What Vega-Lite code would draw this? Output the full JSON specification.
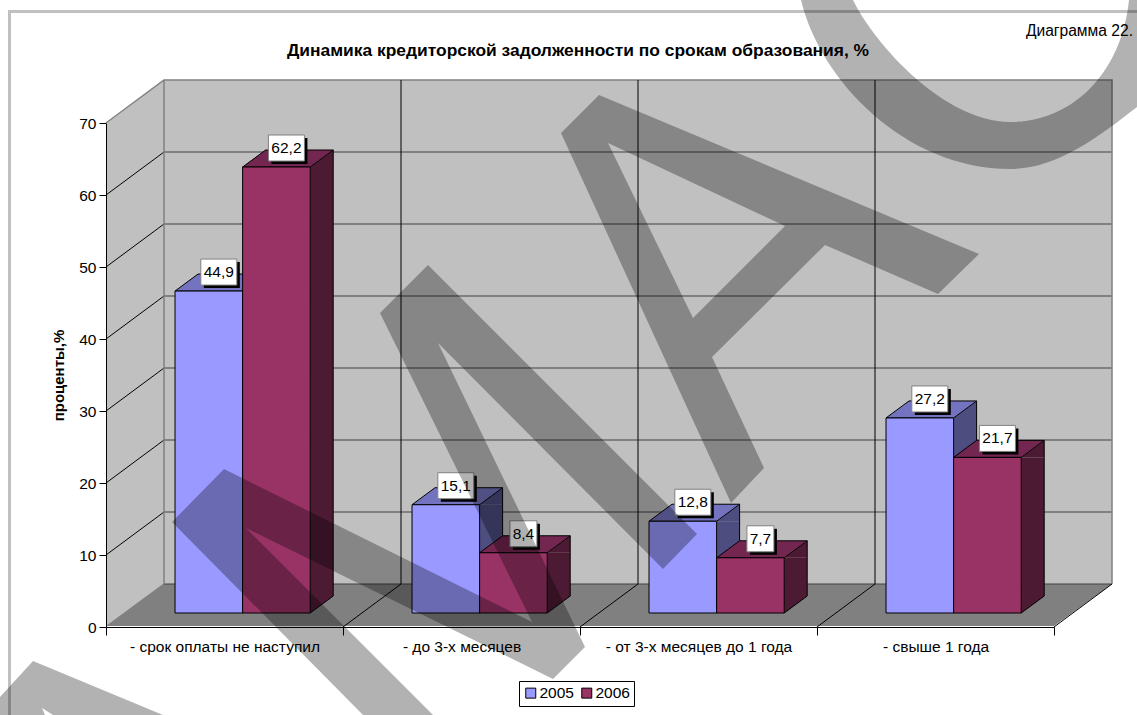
{"$schema":"https://vega.github.io/schema/vega-lite/v6.json","width":948,"height":504,"autosize":{"type":"none"},"padding":{"left":106,"top":123,"right":83,"bottom":88},"background":"white",
"title":{"text":"Динамика кредиторской задолженности по срокам образования, %","anchor":"middle","frame":"group","fontSize":17.4,"fontWeight":"bold","color":"black","offset":-59,"dx":-2},
"config":{"font":"Liberation Sans","view":{"stroke":null},"axis":{"grid":false}},
"datasets":{
"bars":[{"cat":"- срок оплаты не наступил","year":"2005","v":44.9,"label":"44,9"},{"cat":"- срок оплаты не наступил","year":"2006","v":62.2,"label":"62,2"},{"cat":"- до 3-х месяцев","year":"2005","v":15.1,"label":"15,1"},{"cat":"- до 3-х месяцев","year":"2006","v":8.4,"label":"8,4"},{"cat":"- от 3-х месяцев до 1 года","year":"2005","v":12.8,"label":"12,8"},{"cat":"- от 3-х месяцев до 1 года","year":"2006","v":7.7,"label":"7,7"},{"cat":"- свыше 1 года","year":"2005","v":27.2,"label":"27,2"},{"cat":"- свыше 1 года","year":"2006","v":21.7,"label":"21,7"}],
"cats":[{"cat":"- срок оплаты не наступил"},{"cat":"- до 3-х месяцев"},{"cat":"- от 3-х месяцев до 1 года"},{"cat":"- свыше 1 года"}],
"ticks":[{"tick":0},{"tick":10},{"tick":20},{"tick":30},{"tick":40},{"tick":50},{"tick":60},{"tick":70}],
"frame":[{"part":"frame"}]},
"resolve":{"scale":{"y":"independent"}},
"layer":[
{"layer":[
{"data":{"name":"frame"},"mark":{"type":"point","filled":true,"fill":"#C0C0C0","stroke":null,"opacity":1,"size":4,"shape":"M1,-1L1,-504L58,-547H1006V-43H58Z"},"encoding":{"x":{"datum":"- срок оплаты не наступил","type":"nominal","bandPosition":0,"scale":{"type":"band","domain":["- срок оплаты не наступил","- до 3-х месяцев","- от 3-х месяцев до 1 года","- свыше 1 года"],"paddingInner":0,"paddingOuter":0},"axis":{"title":null,"tickBand":"extent","labelAngle":0,"labelFontSize":15.5,"labelLimit":400,"labelColor":"black","labelPadding":4,"tickSize":8,"tickColor":"black","domainColor":"black"}},"y":{"datum":0,"type":"quantitative","scale":{"domain":[0,70]},"axis":{"values":[0,10,20,30,40,50,60,70],"title":"проценты,%","titleFontSize":15,"titleFontWeight":"bold","titleColor":"black","titlePadding":12,"labelFontSize":15.5,"labelColor":"black","labelPadding":3,"tickSize":7,"tickColor":"black","domainColor":"black"}}}},
{"data":{"name":"frame"},"mark":{"type":"point","filled":true,"fill":"#808080","stroke":null,"opacity":1,"size":4,"shape":"M1,-1L58,-43H1006L948,-1Z"},"encoding":{"x":{"datum":"- срок оплаты не наступил","type":"nominal","bandPosition":0,"scale":{"type":"band","domain":["- срок оплаты не наступил","- до 3-х месяцев","- от 3-х месяцев до 1 года","- свыше 1 года"],"paddingInner":0,"paddingOuter":0}},"y":{"datum":0,"type":"quantitative","scale":{"domain":[0,70]}}}},
{"data":{"name":"ticks"},"transform":[{"filter":"datum.tick<70"}],"mark":{"type":"point","filled":false,"stroke":"#404040","strokeWidth":1.2,"opacity":1,"size":4,"shape":"M58,-43H1006"},"encoding":{"x":{"datum":"- срок оплаты не наступил","type":"nominal","bandPosition":0,"scale":{"type":"band","domain":["- срок оплаты не наступил","- до 3-х месяцев","- от 3-х месяцев до 1 года","- свыше 1 года"],"paddingInner":0,"paddingOuter":0}},"y":{"field":"tick","type":"quantitative","scale":{"domain":[0,70]}}}},
{"data":{"name":"ticks"},"transform":[{"filter":"datum.tick>0&&datum.tick<70"}],"mark":{"type":"point","filled":false,"stroke":"black","strokeWidth":1,"opacity":1,"size":4,"shape":"M0,0L58,-43"},"encoding":{"x":{"datum":"- срок оплаты не наступил","type":"nominal","bandPosition":0,"scale":{"type":"band","domain":["- срок оплаты не наступил","- до 3-х месяцев","- от 3-х месяцев до 1 года","- свыше 1 года"],"paddingInner":0,"paddingOuter":0}},"y":{"field":"tick","type":"quantitative","scale":{"domain":[0,70]}}}},
{"data":{"name":"frame"},"mark":{"type":"point","filled":false,"stroke":"#808080","strokeWidth":1.5,"opacity":1,"size":4,"shape":"M1,-1L58,-43M0,-504L58,-547H1006V-43M58,-547V-43"},"encoding":{"x":{"datum":"- срок оплаты не наступил","type":"nominal","bandPosition":0,"scale":{"type":"band","domain":["- срок оплаты не наступил","- до 3-х месяцев","- от 3-х месяцев до 1 года","- свыше 1 года"],"paddingInner":0,"paddingOuter":0}},"y":{"datum":0,"type":"quantitative","scale":{"domain":[0,70]}}}},
{"data":{"name":"cats"},"transform":[{"filter":"datum.cat!=='- срок оплаты не наступил'"}],"mark":{"type":"point","filled":false,"stroke":"black","strokeWidth":1,"opacity":1,"size":4,"shape":"M0,0L58,-43V-547"},"encoding":{"x":{"field":"cat","type":"nominal","bandPosition":0,"scale":{"type":"band","domain":["- срок оплаты не наступил","- до 3-х месяцев","- от 3-х месяцев до 1 года","- свыше 1 года"],"paddingInner":0,"paddingOuter":0}},"y":{"datum":0,"type":"quantitative","scale":{"domain":[0,70]}}}},
{"data":{"name":"frame"},"mark":{"type":"point","filled":false,"stroke":"black","strokeWidth":1,"opacity":1,"size":4,"shape":"M0,0L58,-43"},"encoding":{"x":{"datum":"- свыше 1 года","type":"nominal","bandPosition":1,"scale":{"type":"band","domain":["- срок оплаты не наступил","- до 3-х месяцев","- от 3-х месяцев до 1 года","- свыше 1 года"],"paddingInner":0,"paddingOuter":0}},"y":{"datum":0,"type":"quantitative","scale":{"domain":[0,70]}}}},
{"data":{"name":"frame"},"mark":{"type":"text","text":"Диаграмма 22.","align":"right","baseline":"middle","fontSize":15.6,"color":"black","dx":79,"dy":-92},"encoding":{"x":{"datum":"- свыше 1 года","type":"nominal","bandPosition":1,"scale":{"type":"band","domain":["- срок оплаты не наступил","- до 3-х месяцев","- от 3-х месяцев до 1 года","- свыше 1 года"],"paddingInner":0,"paddingOuter":0}},"y":{"datum":70,"type":"quantitative","scale":{"domain":[0,70]}}}}
]},
{"data":{"name":"bars"},
"encoding":{"x":{"field":"cat","type":"nominal","scale":{"type":"band","domain":["- срок оплаты не наступил","- до 3-х месяцев","- от 3-х месяцев до 1 года","- свыше 1 года"],"paddingInner":0,"paddingOuter":0}},"xOffset":{"field":"year","type":"nominal","scale":{"paddingInner":0,"paddingOuter":0.753,"align":0.678}}},
"layer":[
{"mark":{"type":"point","filled":true,"stroke":null,"opacity":1,"size":4,"shape":"M33.8,-14L56.8,-31V-14Z"},"encoding":{"y":{"field":"v","type":"quantitative","scale":{"domain":[0,70.29]},"axis":null},"fill":{"condition":{"test":"datum.year==='2005'","value":"#4D4D80"},"value":"#4D1A33"}}},
{"mark":{"type":"point","filled":true,"stroke":null,"opacity":1,"size":4,"shape":"M33.8,-14V-31H56.8Z"},"encoding":{"y":{"datum":0,"type":"quantitative","scale":{"domain":[0,70.29]},"axis":null},"fill":{"condition":{"test":"datum.year==='2005'","value":"#4D4D80"},"value":"#4D1A33"}}},
{"mark":{"type":"point","filled":false,"stroke":"black","strokeWidth":1,"opacity":1,"size":4,"shape":"M33.8,-14L56.8,-31"},"encoding":{"y":{"datum":0,"type":"quantitative","scale":{"domain":[0,70.29]},"axis":null}}}
]},
{"data":{"name":"bars"},
"encoding":{"x":{"field":"cat","type":"nominal","scale":{"type":"band","domain":["- срок оплаты не наступил","- до 3-х месяцев","- от 3-х месяцев до 1 года","- свыше 1 года"],"paddingInner":0,"paddingOuter":0}},"y":{"field":"v","type":"quantitative","scale":{"domain":[0,70.29]},"axis":null},"y2":{"datum":0}},
"layer":[
{"transform":[{"filter":"datum.year==='2005'"}],"mark":{"type":"rule","stroke":"#4D4D80","strokeWidth":23,"xOffset":29.6,"yOffset":-14,"y2Offset":-31}},
{"transform":[{"filter":"datum.year==='2006'"}],"mark":{"type":"rule","stroke":"#4D1A33","strokeWidth":23,"xOffset":97.2,"yOffset":-14,"y2Offset":-31}},
{"transform":[{"filter":"datum.year==='2005'"}],"mark":{"type":"rule","stroke":"black","strokeWidth":1,"xOffset":41.1,"yOffset":-31,"y2Offset":-31}},
{"transform":[{"filter":"datum.year==='2006'"}],"mark":{"type":"rule","stroke":"black","strokeWidth":1,"xOffset":108.7,"yOffset":-31,"y2Offset":-31}}
]},
{"data":{"name":"bars"},
"encoding":{"x":{"field":"cat","type":"nominal","scale":{"type":"band","domain":["- срок оплаты не наступил","- до 3-х месяцев","- от 3-х месяцев до 1 года","- свыше 1 года"],"paddingInner":0,"paddingOuter":0}},"xOffset":{"field":"year","type":"nominal","scale":{"paddingInner":0,"paddingOuter":0.753,"align":0.678}},"y":{"field":"v","type":"quantitative","scale":{"domain":[0,70.29]},"axis":null}},
"layer":[
{"mark":{"type":"point","filled":true,"stroke":"black","strokeWidth":1,"opacity":1,"size":4,"shape":"M-33.8,-14H33.8L56.8,-31H-10.8Z"},"encoding":{"fill":{"condition":{"test":"datum.year==='2005'","value":"#7373BF"},"value":"#732650"}}},
{"mark":{"type":"bar","stroke":"black","strokeWidth":1,"yOffset":-14,"y2Offset":-14},"encoding":{"y2":{"datum":0},"color":{"field":"year","type":"nominal","scale":{"domain":["2005","2006"],"range":["#9999FF","#993366"]},"legend":{"orient":"none","legendX":413,"legendY":558,"direction":"horizontal","title":null,"strokeColor":"black","fillColor":"white","padding":4,"symbolType":"square","symbolSize":100,"symbolStrokeColor":"black","symbolStrokeWidth":1,"labelFontSize":15.5,"labelOffset":1,"labelColor":"black","columnPadding":5}}}},
{"mark":{"type":"point","filled":true,"fill":"black","stroke":null,"opacity":1,"size":4},"encoding":{"shape":{"condition":{"test":"datum.v<10","value":"M-0.5,-43H26.5V-17H-0.5Z"},"value":"M-5,-43H31V-17H-5Z"}}},
{"mark":{"type":"point","filled":true,"fill":"white","stroke":"#808080","strokeWidth":1,"opacity":1,"size":4},"encoding":{"shape":{"condition":{"test":"datum.v<10","value":"M-3.5,-46H23.5V-20H-3.5Z"},"value":"M-8,-46H28V-20H-8Z"}}},
{"mark":{"type":"text","fontSize":15.5,"color":"black","align":"center","baseline":"middle","dx":10,"dy":-33},"encoding":{"text":{"field":"label","type":"nominal"}}}
]},
{"data":{"name":"frame"},
"encoding":{"x":{"datum":"- срок оплаты не наступил","type":"nominal","bandPosition":0,"scale":{"type":"band","domain":["- срок оплаты не наступил","- до 3-х месяцев","- от 3-х месяцев до 1 года","- свыше 1 года"],"paddingInner":0,"paddingOuter":0}},"y":{"datum":0,"type":"quantitative","scale":{"domain":[0,70]},"axis":null}},
"layer":[
{"mark":{"type":"point","filled":false,"stroke":"#C0C0C0","strokeWidth":3,"opacity":1,"size":4,"shape":"M-96.5,88V-615.5H1031"}},
{"mark":{"type":"point","filled":true,"fill":"black","stroke":null,"opacity":0.3,"size":4,"shape":"M322,-362L591,-93L557,-58L332,-284L479,20L447,52L140,-99L327,88H257L66,-105L118,-158L426,-5L274,-314ZM493,-532L873,-373L832,-333L719,-382L606,-270L658,-159L625,-124L455,-494ZM502,-484L587,-309L679,-401ZM-106,70L-73,34L57,88H-53L-64,81L-61,88H-106ZM747,-627C769,-582 839,-505 904,-505C969,-505 1016,-557 1023,-627H1031V-520C989,-487 949,-458 904,-458C799,-458 714,-547 695,-627Z"}}
]}
]}
